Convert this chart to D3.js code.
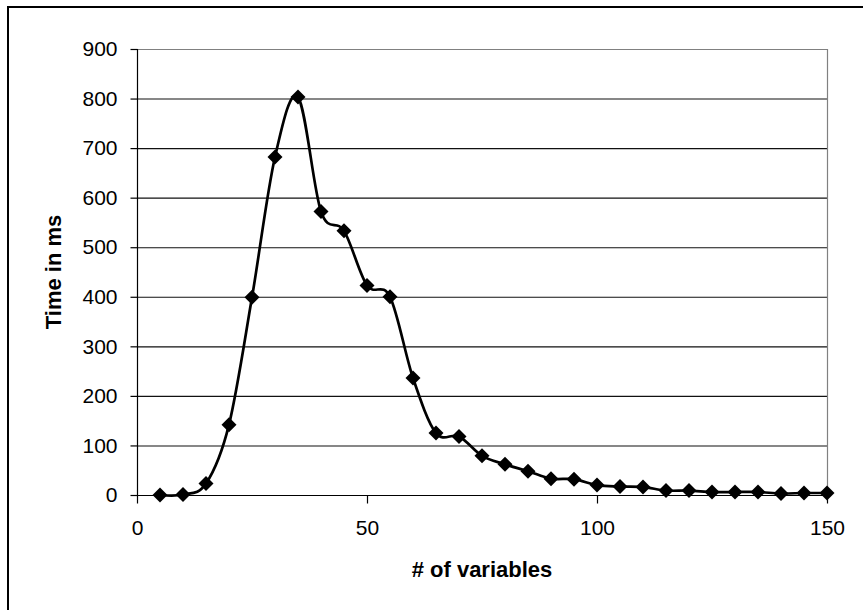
<!DOCTYPE html>
<html>
<head>
<meta charset="utf-8">
<script src="https://cdn.jsdelivr.net/npm/d3@7"></script>
<style>
html,body{margin:0;padding:0;background:#fff;}
svg{display:block;}
text{font-family:"Liberation Sans",Arial,sans-serif;fill:#000;}
</style>
</head>
<body>
<svg id="chart" width="863" height="610"></svg>
<script>
const xValues = [5,10,15,20,25,30,35,40,45,50,55,60,65,70,75,80,85,90,95,100,105,110,115,120,125,130,135,140,145,150];
const timeMs  = [0,1,23,142,399,682,803,572,533,423,400,236,125,118,79,62,48,33,32,20,17,16,9,9,6,6,6,3,4,4];
const xTicks = [0,50,100,150];
const yTicks = [0,100,200,300,400,500,600,700,800,900];
const xTitle = "# of variables";
const yTitle = "Time in ms";

const svg = d3.select("#chart");
const W = 863, H = 610;
const plot = {left:137, right:827, top:49, bottom:495};

// outer chart border (only left/top visible in frame)
svg.append("rect").attr("x",8).attr("y",7).attr("width",W).attr("height",H)
  .attr("fill","#fff").attr("stroke","#000").attr("stroke-width",2);

const x = d3.scaleLinear().domain([0,150]).range([plot.left, plot.right]);
const y = d3.scaleLinear().domain([0,900]).range([plot.bottom, plot.top]);

// gridlines
svg.append("g").selectAll("line").data(yTicks.filter(d=>d>0 && d<900)).join("line")
  .attr("x1",plot.left).attr("x2",plot.right)
  .attr("y1",d=>y(d)+0.5).attr("y2",d=>y(d)+0.5)
  .attr("stroke","#111").attr("stroke-width",1.1);

// plot area border (top/right gray)
svg.append("line").attr("x1",plot.left).attr("x2",plot.right+0.5)
  .attr("y1",plot.top+0.5).attr("y2",plot.top+0.5).attr("stroke","#808080").attr("stroke-width",1.2);
svg.append("line").attr("x1",plot.right+0.5).attr("x2",plot.right+0.5)
  .attr("y1",plot.top).attr("y2",plot.bottom).attr("stroke","#808080").attr("stroke-width",1.2);

// axes
const yAxis = d3.axisLeft(y).tickValues(yTicks).tickSize(7).tickPadding(13).tickFormat(d3.format("d"));
const gy = svg.append("g").attr("transform",`translate(${plot.left+0.5},0)`).call(yAxis);
const xAxis = d3.axisBottom(x).tickValues(xTicks).tickSize(8).tickPadding(17).tickFormat(d3.format("d"));
const gx = svg.append("g").attr("transform",`translate(0,${plot.bottom+0.5})`).call(xAxis);
[gy,gx].forEach(g=>{
  g.select(".domain").attr("stroke","#000").attr("stroke-width",1.2);
  g.selectAll(".tick line").attr("stroke","#000").attr("stroke-width",1.2);
  g.selectAll(".tick text").attr("font-family","Liberation Sans, Arial, sans-serif")
    .attr("font-size",21).attr("fill","#000");
});
gx.select(".domain").attr("d",`M${plot.left},0H${plot.right}`);
gy.select(".domain").attr("d",`M0,${plot.bottom}V${plot.top}`);

// line
const pts = xValues.map((v,i)=>[v,timeMs[i]]);
const line = d3.line().x(d=>x(d[0])).y(d=>y(d[1])).curve(d3.curveCardinal.tension(0));
svg.append("path").datum(pts).attr("d",line).attr("fill","none")
  .attr("stroke","#000").attr("stroke-width",2.7).attr("stroke-linejoin","round");

// markers (diamonds)
const r = 7.5;
svg.append("g").selectAll("path").data(pts).join("path")
  .attr("transform",d=>`translate(${x(d[0])},${y(d[1])})`)
  .attr("d",`M0,${-r}L${r},0L0,${r}L${-r},0Z`).attr("fill","#000");

// titles
svg.append("text").attr("x",(plot.left+plot.right)/2).attr("y",577)
  .attr("text-anchor","middle").attr("font-weight","bold").attr("font-size",22).text(xTitle);
svg.append("text").attr("transform",`translate(61,${(plot.top+plot.bottom)/2}) rotate(-90)`)
  .attr("text-anchor","middle").attr("font-weight","bold").attr("font-size",22).text(yTitle);
</script>
</body>
</html>
